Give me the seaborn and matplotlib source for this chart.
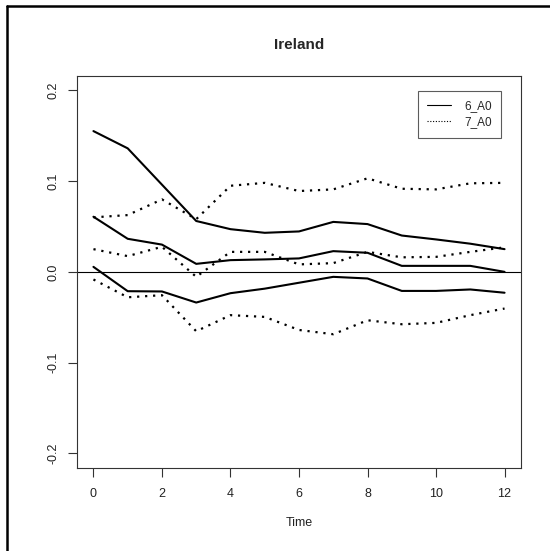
import numpy as np
import pandas as pd
import seaborn as sns
import matplotlib
matplotlib.use("Agg")
import matplotlib.pyplot as plt
from matplotlib.lines import Line2D

time = list(range(13))

# 6_A0 (solid): upper band, estimate, lower band
a6_upper = [0.155, 0.136, 0.096, 0.056, 0.047, 0.043, 0.0445, 0.055, 0.0526, 0.040, 0.0357, 0.031, 0.025]
a6_mid = [0.0607, 0.0364, 0.030, 0.0088, 0.0129, 0.0137, 0.0148, 0.0228, 0.021, 0.0066, 0.0066, 0.0066, 0.0]
a6_lower = [0.0055, -0.0213, -0.0216, -0.0338, -0.0235, -0.0185, -0.0120, -0.0055, -0.0073, -0.021, -0.021, -0.0194, -0.023]

# 7_A0 (dotted): upper band, estimate, lower band
a7_upper = [0.060, 0.0625, 0.0798, 0.058, 0.0948, 0.098, 0.089, 0.0908, 0.103, 0.0915, 0.0908, 0.0975, 0.098]
a7_mid = [0.025, 0.0173, 0.0276, -0.0055, 0.022, 0.022, 0.0082, 0.0096, 0.022, 0.016, 0.0165, 0.022, 0.027]
a7_lower = [-0.0084, -0.028, -0.0257, -0.0654, -0.0477, -0.0496, -0.064, -0.0687, -0.0533, -0.0577, -0.0562, -0.0477, -0.0404]

series_labels = ["6_A0", "7_A0"]
title = "Ireland"
xlabel = "Time"
xticks = [0, 2, 4, 6, 8, 10, 12]
yticks = [-0.2, -0.1, 0.0, 0.1, 0.2]
ytick_labels = ["-0.2", "-0.1", "0.0", "0.1", "0.2"]

sns.set_style("white")
plt.rcParams["font.family"] = ["Liberation Sans", "DejaVu Sans"]

fig = plt.figure(figsize=(5.5, 5.51), dpi=100)
W, H = 550, 551
left, right, top, bottom = 77, 521, 75.7, 468
ax = fig.add_axes([left / W, 1 - bottom / H, (right - left) / W, (bottom - top) / H])

solid_kw = dict(color="black", linewidth=1.5, linestyle="-")
dot_kw = dict(color="black", linewidth=1.6, linestyle=(0, (1, 2.6)))

for vals in (a6_upper, a6_mid, a6_lower):
    sns.lineplot(x=time, y=vals, ax=ax, legend=False, **solid_kw)
for vals in (a7_upper, a7_mid, a7_lower):
    sns.lineplot(x=time, y=vals, ax=ax, legend=False, **dot_kw)

ax.axhline(0, color="black", linewidth=0.8)

ax.set_xlim(-0.48, 12.48)
ax.set_ylim(-0.216, 0.216)
ax.set_xticks(xticks)
ax.set_xticklabels([str(t) for t in xticks], fontsize=9, color="#222222")
ax.set_yticks(yticks)
ax.set_yticklabels(ytick_labels, fontsize=9, rotation=90, va="center", color="#222222")
ax.tick_params(axis="both", direction="out", length=6.5, width=0.8, color="#333333", pad=8,
               bottom=True, left=True)
ax.tick_params(axis="y", pad=6)
for sp in ax.spines.values():
    sp.set_visible(True)
    sp.set_color("#333333")
    sp.set_linewidth(0.8)

ax.set_xlabel(xlabel, fontsize=9, labelpad=12, color="#222222")
ax.set_ylabel("")
ax.set_title(title, fontsize=11, fontweight="bold", pad=19)

handles = [Line2D([0], [0], color="black", linewidth=0.8, linestyle="-"),
           Line2D([0], [0], color="black", linewidth=0.8, linestyle=(0, (1, 1.5)))]
leg = ax.legend(handles, series_labels, loc="upper right", bbox_to_anchor=(1 - 20 / 444, 1 - 15 / 392.3),
                fontsize=8.5, frameon=True, fancybox=False, handlelength=2.0, handletextpad=1.1,
                borderpad=0.8, labelspacing=0.35, borderaxespad=0)
leg.get_frame().set_edgecolor("#333333")
leg.get_frame().set_linewidth(0.8)

# outer border (left and top edges visible)
fig.add_artist(Line2D([6.5 / W, 6.5 / W], [0, 1 - 5.5 / H], color="black", linewidth=1.8,
                      transform=fig.transFigure))
fig.add_artist(Line2D([6.5 / W, 1], [1 - 5.5 / H, 1 - 5.5 / H], color="black", linewidth=1.8,
                      transform=fig.transFigure))

fig.savefig("out.png", dpi=100)
